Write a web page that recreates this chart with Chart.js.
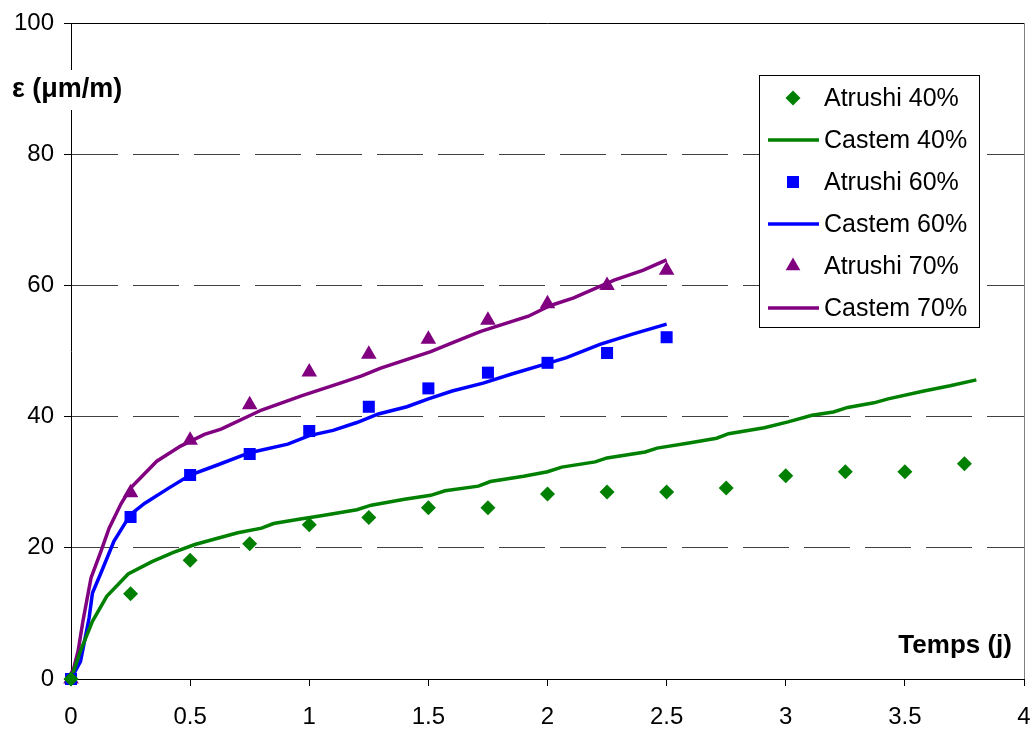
<!DOCTYPE html>
<html>
<head>
<meta charset="utf-8">
<script src="https://cdn.jsdelivr.net/npm/chart.js@4/dist/chart.umd.min.js"></script>
<style>
  html, body { margin: 0; padding: 0; background: #fff; }
  #wrap { width: 1033px; height: 729px; }
</style>
</head>
<body>
<div id="wrap"><canvas id="chart" width="1033" height="729"></canvas></div>
<script>
// measured points (Atrushi)
const atrushiX = [0, 0.25, 0.5, 0.75, 1, 1.25, 1.5, 1.75, 2, 2.25, 2.5, 2.75, 3, 3.25, 3.5, 3.75];
const atrushi40 = [0, 13.0, 18.1, 20.6, 23.5, 24.6, 26.1, 26.1, 28.2, 28.5, 28.5, 29.1, 31.0, 31.6, 31.6, 32.8];
const atrushi60 = [0, 24.7, 31.1, 34.3, 37.8, 41.5, 44.3, 46.7, 48.2, 49.7, 52.1];
const atrushi70 = [0, 28.4, 36.4, 41.8, 46.8, 49.5, 51.8, 54.7, 57.2, 60.0, 62.3];

// simulated curves (Castem)
const castem40X = [0, 0.04, 0.09, 0.15, 0.24, 0.34, 0.43, 0.52, 0.6, 0.7, 0.8, 0.85, 0.95, 1.05, 1.2, 1.26, 1.4, 1.51, 1.57, 1.71, 1.76, 1.9, 2.0, 2.06, 2.2, 2.25, 2.41, 2.46, 2.6, 2.71, 2.76, 2.91, 3.01, 3.11, 3.2, 3.26, 3.37, 3.43, 3.58, 3.69, 3.8];
const castem40Y = [0, 4.3, 8.8, 12.6, 16.0, 17.9, 19.3, 20.5, 21.3, 22.3, 23.0, 23.7, 24.3, 24.9, 25.8, 26.5, 27.4, 28.0, 28.7, 29.4, 30.1, 30.9, 31.6, 32.3, 33.1, 33.7, 34.6, 35.2, 36.0, 36.7, 37.4, 38.3, 39.2, 40.2, 40.7, 41.4, 42.1, 42.7, 43.9, 44.7, 45.6];
const castem60X = [0, 0.04, 0.076, 0.09, 0.126, 0.18, 0.25, 0.31, 0.41, 0.5, 0.62, 0.75, 0.91, 1.0, 1.1, 1.2, 1.29, 1.41, 1.5, 1.6, 1.73, 1.85, 1.99, 2.08, 2.22, 2.36, 2.5];
const castem60Y = [0, 2.7, 9.3, 13.1, 16.2, 21.0, 25.1, 26.8, 29.1, 31.1, 32.7, 34.5, 35.8, 37.1, 37.9, 39.1, 40.4, 41.5, 42.7, 43.9, 45.1, 46.5, 48.0, 49.0, 51.0, 52.6, 54.1];
const castem70X = [0, 0.03, 0.05, 0.084, 0.126, 0.16, 0.21, 0.25, 0.36, 0.46, 0.56, 0.63, 0.8, 0.97, 1.13, 1.22, 1.3, 1.51, 1.61, 1.72, 1.92, 2.01, 2.11, 2.28, 2.4, 2.5];
const castem70Y = [0, 4.3, 8.8, 15.4, 19.5, 23.0, 26.7, 29.1, 33.2, 35.5, 37.3, 38.1, 41.0, 43.2, 45.1, 46.2, 47.4, 49.9, 51.4, 53.0, 55.3, 56.9, 58.1, 60.8, 62.3, 63.9];

const xTicks = [0, 0.5, 1, 1.5, 2, 2.5, 3, 3.5, 4];
const yTicks = [0, 20, 40, 60, 80, 100];

const GREEN = '#008000', BLUE = '#0000FF', PURPLE = '#800080';
const FONT = '"Liberation Sans", Arial, sans-serif';

const pts = (xs, ys) => ys.map((y, i) => ({ x: xs[i], y }));

function markerDs(label, ys, color, style, r) {
  return {
    label, data: pts(atrushiX, ys), showLine: false, clip: false,
    pointStyle: style, pointRadius: r, pointHoverRadius: r,
    pointBackgroundColor: color, pointBorderColor: color, pointBorderWidth: 0,
    backgroundColor: color, borderColor: color, order: 0
  };
}
function lineDs(label, xs, ys, color) {
  return {
    label, data: pts(xs, ys), showLine: true, pointRadius: 0,
    borderColor: color, backgroundColor: color, borderWidth: 3.5, tension: 0, order: 1
  };
}

const datasets = [
  markerDs('Atrushi 40%', atrushi40, GREEN, 'rectRot', 7.5),
  lineDs('Castem 40%', castem40X, castem40Y, GREEN),
  markerDs('Atrushi 60%', atrushi60, BLUE, 'rect', 8.5),
  lineDs('Castem 60%', castem60X, castem60Y, BLUE),
  markerDs('Atrushi 70%', atrushi70, PURPLE, 'triangle', 9),
  lineDs('Castem 70%', castem70X, castem70Y, PURPLE)
];

function drawMarker(ctx, style, x, y, r) {
  ctx.beginPath();
  if (style === 'rectRot') {
    ctx.moveTo(x - r, y); ctx.lineTo(x, y - r); ctx.lineTo(x + r, y); ctx.lineTo(x, y + r);
  } else if (style === 'rect') {
    const s = r * Math.SQRT1_2;
    ctx.rect(x - s, y - s, 2 * s, 2 * s);
  } else {
    const a = 2 * Math.PI / 3;
    for (let i = 0; i < 3; i++) {
      const px = x + Math.sin(i * a) * r, py = y - Math.cos(i * a) * r;
      i ? ctx.lineTo(px, py) : ctx.moveTo(px, py);
    }
  }
  ctx.closePath();
  ctx.fill();
}

const decor = {
  id: 'decor',
  afterDraw(chart) {
    const { ctx, chartArea: a } = chart;
    ctx.save();
    // plot frame top / right
    ctx.strokeStyle = '#000'; ctx.lineWidth = 1;
    ctx.beginPath();
    ctx.moveTo(a.left, a.top + 0.5); ctx.lineTo(a.right + 0.5, a.top + 0.5);
    ctx.stroke();
    ctx.strokeStyle = '#808080';
    ctx.beginPath();
    ctx.moveTo(a.right + 0.5, a.top); ctx.lineTo(a.right + 0.5, a.bottom);
    ctx.stroke();

    // axis titles on white
    ctx.font = 'bold 27px ' + FONT;
    ctx.textBaseline = 'middle';
    ctx.textAlign = 'left';
    const yt = 'ε (μm/m)';
    const w1 = ctx.measureText(yt).width;
    ctx.fillStyle = '#fff';
    ctx.fillRect(10, 70, w1 + 6, 40);
    ctx.fillStyle = '#000';
    ctx.fillText(yt, 12, 90);

    ctx.font = 'bold 26px ' + FONT;
    ctx.textAlign = 'right';
    ctx.fillText('Temps (j)', 1012, 646);

    // legend box
    const lx = 759, ly = 75, lw = 220, lh = 252;
    ctx.fillStyle = '#fff';
    ctx.fillRect(lx, ly, lw, lh);
    ctx.strokeStyle = '#000'; ctx.lineWidth = 1;
    ctx.strokeRect(lx + 0.5, ly + 0.5, lw, lh);
    ctx.font = '25px ' + FONT;
    ctx.textAlign = 'left';
    chart.data.datasets.forEach((ds, i) => {
      const cy = 98 + i * 42;
      ctx.fillStyle = ds.borderColor;
      ctx.strokeStyle = ds.borderColor;
      if (ds.showLine) {
        ctx.lineWidth = 3.5;
        ctx.beginPath(); ctx.moveTo(768, cy); ctx.lineTo(819, cy); ctx.stroke();
      } else {
        drawMarker(ctx, ds.pointStyle, 793, cy, ds.pointStyle === 'rect' ? 8.5 : (ds.pointStyle === 'triangle' ? 8.5 : 7.5));
      }
      ctx.fillStyle = '#000';
      ctx.fillText(ds.label, 824, cy + 1);
    });
    ctx.restore();
  }
};

new Chart(document.getElementById('chart'), {
  type: 'scatter',
  data: { datasets },
  options: {
    responsive: false,
    animation: false,
    events: [],
    layout: { padding: { top: 23, right: 3, left: 0, bottom: 0 } },
    plugins: { legend: { display: false }, tooltip: { enabled: false } },
    scales: {
      x: {
        type: 'linear', min: 0, max: 4,
        afterBuildTicks: s => { s.ticks = xTicks.map(v => ({ value: v })); },
        afterFit: s => { s.height = 50; s.paddingLeft = 0; s.paddingRight = 0; },
        ticks: { color: '#000', font: { family: FONT, size: 24 }, padding: 17, maxRotation: 0,
          callback: v => String(v) },
        grid: { drawOnChartArea: false, drawTicks: true, tickLength: 7, tickColor: '#000', tickWidth: 1 },
        border: { display: true, color: '#000', width: 1 }
      },
      y: {
        type: 'linear', min: 0, max: 100,
        afterBuildTicks: s => { s.ticks = yTicks.map(v => ({ value: v })); },
        afterFit: s => { s.width = 71; s.paddingTop = 0; s.paddingBottom = 0; },
        ticks: { color: '#000', font: { family: FONT, size: 24 }, padding: 10 },
        grid: { color: '#404040', lineWidth: 1, tickLength: 7, tickColor: '#000', tickWidth: 1,
          tickBorderDash: [] },
        border: { display: true, color: '#000', width: 1, dash: [46, 15] }
      }
    }
  },
  plugins: [decor]
});
</script>
</body>
</html>
